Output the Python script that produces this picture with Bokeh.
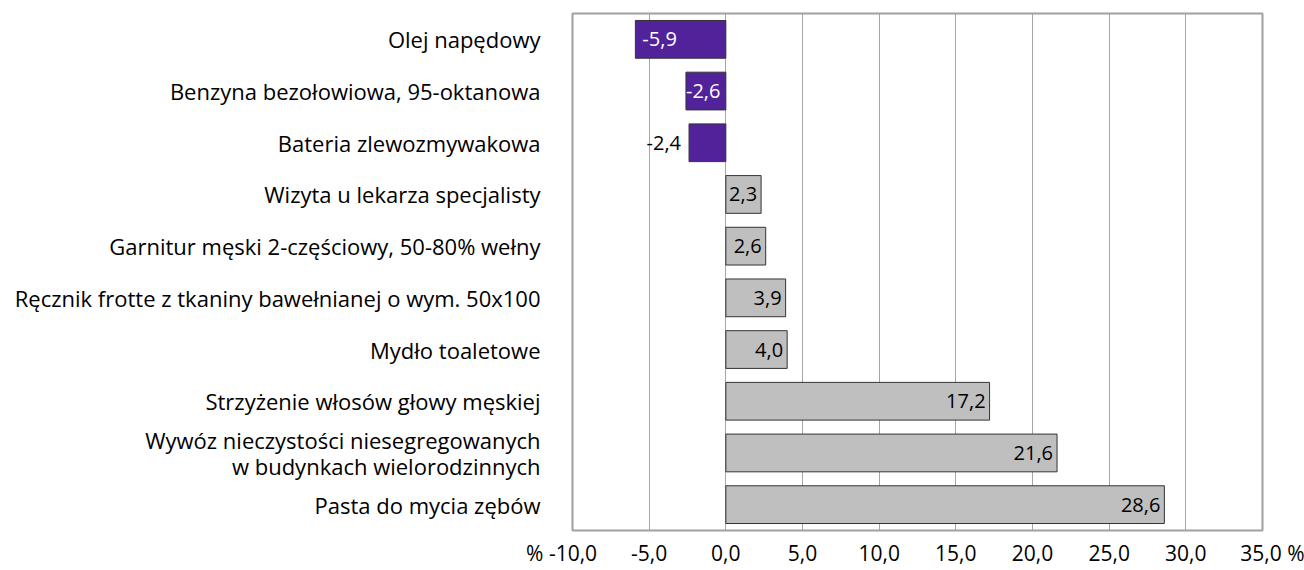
from bokeh.plotting import figure
from bokeh.models import Range1d, FixedTicker, ColumnDataSource
from bokeh.core.properties import value
from bokeh.embed import file_html
from bokeh.resources import INLINE

categories = [
    "Olej napędowy",
    "Benzyna bezołowiowa, 95-oktanowa",
    "Bateria zlewozmywakowa",
    "Wizyta u lekarza specjalisty",
    "Garnitur męski 2-częściowy, 50-80% wełny",
    "Ręcznik frotte z tkaniny bawełnianej o wym. 50x100",
    "Mydło toaletowe",
    "Strzyżenie włosów głowy męskiej",
    "Wywóz nieczystości niesegregowanych\nw budynkach wielorodzinnych",
    "Pasta do mycia zębów",
]
values = [-5.9, -2.6, -2.4, 2.3, 2.6, 3.9, 4.0, 17.2, 21.6, 28.6]
x_ticks = [-10, -5, 0, 5, 10, 15, 20, 25, 30, 35]
x_tick_labels = ["-10,0", "-5,0", "0,0", "5,0", "10,0", "15,0", "20,0", "25,0", "30,0", "35,0"]
unit = "%"

FONT = "Open Sans"
PURPLE = "#52229a"
GREY = "#bfbfbf"
NB = "\u00a0"

n = len(categories)
ypos = [n - 1 - i for i in range(n)]  # first category at top
labels = [f"{v:.1f}".replace(".", ",") for v in values]

tick_text = list(x_tick_labels)
tick_text[0] = unit + NB + tick_text[0] + NB * 4
tick_text[-1] = NB * 4 + tick_text[-1] + NB + unit

p = figure(width=1304, height=570, output_backend="svg", toolbar_location=None,
           x_range=Range1d(-10, 35), y_range=Range1d(-0.5, n - 0.5),
           min_border_left=572, min_border_right=42, min_border_top=13, min_border_bottom=40)

p.outline_line_color = "#a0a0a0"
p.outline_line_width = 2
p.background_fill_color = "white"
p.border_fill_color = "white"

p.xgrid.grid_line_color = "#a6a6a6"
p.xgrid.grid_line_width = 1
p.ygrid.grid_line_color = None
p.xaxis.ticker = FixedTicker(ticks=x_ticks)
p.xaxis.major_label_overrides = {t: l for t, l in zip(x_ticks, tick_text)}
p.xaxis.axis_line_color = None
p.xaxis.major_tick_line_color = None
p.xaxis.minor_tick_line_color = None
p.xaxis.major_tick_out = 0
p.xaxis.major_tick_in = 0
p.xaxis.minor_tick_out = 0
p.xaxis.major_label_text_font = FONT
p.xaxis.major_label_text_font_size = "21px"
p.xaxis.major_label_text_color = "black"
p.xaxis.major_label_standoff = 8

p.yaxis.ticker = FixedTicker(ticks=ypos)
p.yaxis.major_label_overrides = {y: c for y, c in zip(ypos, categories)}
p.yaxis.axis_line_color = None
p.yaxis.major_tick_line_color = None
p.yaxis.minor_tick_line_color = None
p.yaxis.major_tick_out = 0
p.yaxis.major_tick_in = 0
p.yaxis.minor_tick_out = 0
p.yaxis.major_label_text_font = FONT
p.yaxis.major_label_text_font_size = "22px"
p.yaxis.major_label_text_line_height = 0.85
p.yaxis.major_label_text_color = "black"
p.yaxis.major_label_standoff = 32

colors = [PURPLE if v < 0 else GREY for v in values]
src = ColumnDataSource(dict(y=ypos, v=values, c=colors, t=labels))
p.hbar(y="y", left=0, right="v", height=0.73, fill_color="c",
       line_color="#333333", line_width=1, source=src)

# value labels
LBL = dict(text_baseline="middle", text_font=value(FONT), text_font_size="20px")
pos = [i for i, v in enumerate(values) if v > 0]
p.text(x=[values[i] for i in pos], y=[ypos[i] for i in pos], text=[labels[i] for i in pos],
       text_align="right", x_offset=-4, text_color="black", **LBL)

for i, o in zip([0, 1], [7, 0]):
    p.text(x=[values[i]], y=[ypos[i]], text=[labels[i]], text_align="left",
           x_offset=o, text_color="white", **LBL)

p.text(x=[values[2]], y=[ypos[2]], text=[labels[2]], text_align="right",
       x_offset=-8, text_color="black", **LBL)

open("out.html", "w").write(file_html(p, INLINE))
